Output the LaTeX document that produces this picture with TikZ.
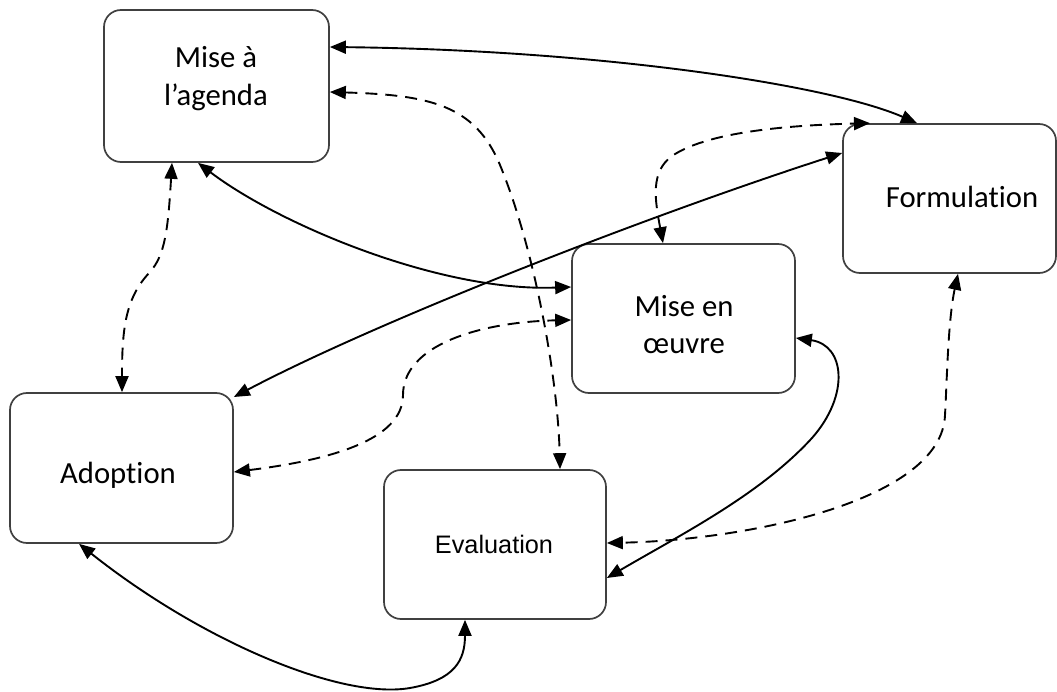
\documentclass[tikz,border=0pt]{standalone}
\usepackage{fontspec}
\setmainfont{Carlito}[Ligatures=NoCommon]
\newfontfamily\arialf{Liberation Sans}
\usetikzlibrary{arrows.meta}
\begin{document}
\begin{tikzpicture}[x=1pt,y=-1pt,
  box/.style={draw=black!75, line width=1.7pt, rounded corners=17pt, inner sep=0pt},
  lbl/.style={font=\fontsize{30.7}{37}\selectfont, inner sep=0pt, anchor=base},
  conn/.style={line width=1.9pt, {Triangle[length=16pt,width=13pt]}-{Triangle[length=16pt,width=13pt]}},
  dconn/.style={conn, dash pattern=on 12pt off 8pt}]
\useasboundingbox (0,0) rectangle (1057,692);
% boxes
\node[box, minimum width=225pt, minimum height=152pt] (agenda) at (216.5,86) {};
\node[box, minimum width=213pt, minimum height=149pt] (form) at (949.5,198.5) {};
\node[box, minimum width=223pt, minimum height=149pt] (moe) at (683.5,318.5) {};
\node[box, minimum width=223pt, minimum height=150pt] (adop) at (121.5,468) {};
\node[box, minimum width=222pt, minimum height=149pt] (eval) at (495,544.5) {};
% texts
\node[lbl] (agendaA) at (216,68) {Mise à};
\node[lbl] (agendaB) at (216,106) {l’agenda};
\node[lbl] (formA) at (962,208) {Formulation};
\node[lbl] (moeA) at (684,317) {Mise en};
\node[lbl] (moeB) at (684,353) {œuvre};
\node[lbl] (adopA) at (118,483) {Adoption};
\node[lbl, font=\arialf\fontsize{25.3}{30}\selectfont] (evalA) at (494,553) {Evaluation};
% connectors
\draw[conn] (agenda.east |- 0,47) .. controls (600,50) and (830,85) .. (form.north -| 917,0);
\draw[dconn] (agenda.east |- 0,92) .. controls (430,95) and (475,105) .. (500,165) .. controls (535,250) and (558,380) .. (eval.north -| 560,0);
\draw[conn] (agenda.south -| 198,0) .. controls (280,225) and (440,292) .. (moe.west |- 0,287);
\draw[conn] (adop.east |- 0,397) .. controls (380,320) and (650,215) .. (form.west |- 0,153);
\draw[dconn] (agenda.south -| 172,0) .. controls (168,230) and (165,255) .. (150,272) .. controls (125,298) and (122,330) .. (adop.north -| 122,0);
\draw[dconn] (adop.east |- 0,472) .. controls (330,460) and (403,440) .. (403,395) .. controls (403,345) and (480,322) .. (moe.west |- 0,320);
\draw[dconn] (moe.north -| 663,0) .. controls (655,200) and (650,172) .. (672,156) .. controls (710,130) and (800,125) .. (form.north -| 870,0);
\draw[conn] (moe.east |- 0,338) .. controls (845,345) and (850,395) .. (812,438) .. controls (760,495) and (680,535) .. (eval.east |- 0,578);
\draw[dconn] (form.south -| 958,0) .. controls (948,320) and (947,380) .. (945,415) .. controls (942,500) and (750,540) .. (eval.east |- 0,543);
\draw[conn] (adop.south -| 79,0) .. controls (200,640) and (340,700) .. (410,688) .. controls (455,680) and (465,660) .. (eval.south -| 465,0);
\end{tikzpicture}
\end{document}
